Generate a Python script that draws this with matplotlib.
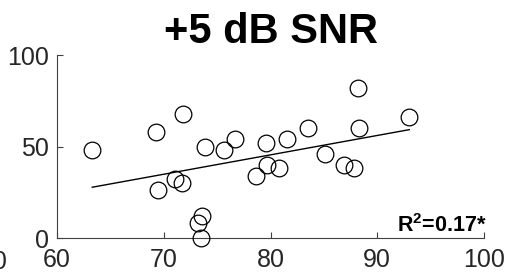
import numpy as np
import matplotlib
matplotlib.use("Agg")
import matplotlib.pyplot as plt

plt.rcParams['font.family'] = ['Liberation Sans', 'DejaVu Sans']
plt.rcParams['mathtext.fontset'] = 'custom'
plt.rcParams['mathtext.rm'] = 'Liberation Sans'
plt.rcParams['mathtext.bf'] = 'Liberation Sans:bold'

# 数据
x_vals = [63.3, 69.3, 69.5, 71.8, 71.1, 71.7, 73.6, 73.2, 73.5, 73.9, 75.6, 76.7,
          78.6, 79.6, 79.7, 80.8, 81.5, 83.5, 85.1, 86.9, 87.8, 88.2, 88.3, 93.0]
y_vals = [48, 58, 26, 68, 32, 30, 12, 8, 0, 50, 48, 54,
          34, 52, 40, 38, 54, 60, 46, 40, 38, 82, 60, 66]
x_ticks = [60, 70, 80, 90, 100]
y_ticks = [0, 50, 100]
title = '+5 dB SNR'

fig = plt.figure(figsize=(5.05, 2.75), dpi=100)
ax = fig.add_axes([57/505, 37/275, 427/505, 183/275])

x = np.array(x_vals)
y = np.array(y_vals)

# 散点
ax.plot(x, y, 'o', ms=12, mfc='none', mec='black', mew=0.9, clip_on=False, zorder=3)

# 线性拟合
k, b = np.polyfit(x, y, 1)
xl = np.array([x.min(), x.max()])
ax.plot(xl, k * xl + b, color='black', lw=1.0)

ax.set_xlim(60, 100)
ax.set_ylim(0, 100)
ax.set_xticks(x_ticks)
ax.set_yticks(y_ticks)
ax.spines['top'].set_visible(False)
ax.spines['right'].set_visible(False)
for s in ['left', 'bottom']:
    ax.spines[s].set_color('#404040')
    ax.spines[s].set_linewidth(0.8)
ax.tick_params(direction='in', length=4, width=0.8, color='#404040',
               labelsize=18, labelcolor='#262626')
ax.tick_params(axis='x', pad=7)
ax.tick_params(axis='y', pad=6)

ax.set_title(title, fontsize=30, fontweight='bold', pad=9)
ax.text(1.005, 0.035, r'$\mathbf{R^2}$=0.17*', transform=ax.transAxes,
        ha='right', va='baseline', fontsize=15.5, fontweight='bold')

# 左侧相邻面板残留的刻度标签
fig.text(7/505, 1 - 262/275, '100', ha='right', va='center', fontsize=18, color='#262626')

fig.savefig('out.png', dpi=100)
